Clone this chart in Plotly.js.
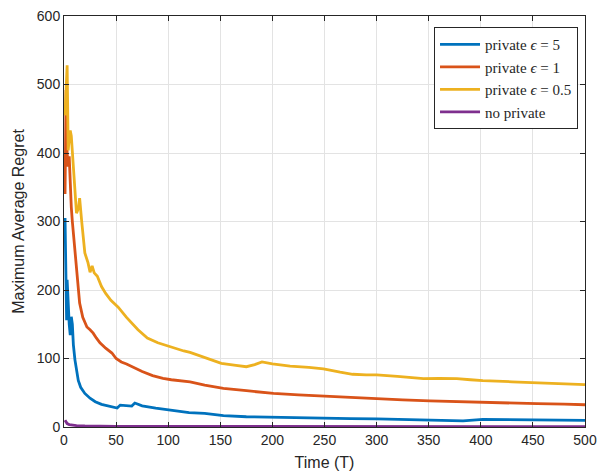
<!DOCTYPE html>
<html>
<head>
<meta charset="utf-8">
<script src="https://cdn.plot.ly/plotly-3.0.1.min.js"></script>
<style>html,body{margin:0;padding:0;background:#fff;}#chart{width:600px;height:476px;}</style>
</head>
<body>
<div id="chart"></div>
<script>
// Series: private eps = 5 (blue)
const tEps5 = [1,2,2.5,3,4,5,6,7,8,9,10.5,12,13.7,16,20,25,30,36,43,48,51,54,60,65,68,75,88,104,120,135,153,175,201,225,249,275,300,325,351,383,402,430,454,480,500];
const vEps5 = [305,200,156,215,170,150,134,161,150,120,98,80,68,58,49,42,37,33,30.6,29,27.7,32,31,30.6,35,31,27.7,24,21,20,16.5,15,14,13.2,12.6,12.2,12,11,10,9,11,10.8,10.5,10,9.7];
// Series: private eps = 1 (red)
const tEps1 = [1,2,3,4,5,6,7,8,10.5,13,15,18,22,25,28,31,34.5,40,46,50,55,60,65,70,75,85,95,103,115,121,135,153,175,201,225,249,275,300,325,351,375,402,430,454,480,500];
const vEps1 = [340,492,400,380,395,350,321,300,258,215,181,160,146,142,137,130,123,115,108,100,95,92,88,84,81,75,71,69,67,66,61,56.5,53,49,47,45,43,41,39.5,38,37,35.5,35,34,33.5,32.5];
// Series: private eps = 0.5 (yellow)
const tEps05 = [1,2,3,3.5,4,5,6,7,8,10,12,14,15,17,20,23,25,27,29,32,36,40,45,52,60,71,80,90,102,115,121,135,151,165,175,183,190,200,217,235,249,265,277,290,300,320,345,360,377,390,402,430,454,480,500];
const vEps05 = [455,500,528,470,404,420,433,425,400,350,312,320,334,300,254,240,226,235,225,220,205,195,185,175,160,142,130,123,117,111,109,101,93,90,88,91,95,92,89,87,85,80,77,76,76,74,70.5,71,70.5,69,67.6,66,64.7,64,62];
// Series: no private (purple)
const tNone = [1,2,3,5,8,12,20,30,50,100,200,300,400,500];
const vNone = [10,7,5,3.5,2.5,2,1.5,1.2,1,0.8,0.6,0.5,0.5,0.5];

const seriesNames = ['private <i>\u03f5</i> = 5','private <i>\u03f5</i> = 1','private <i>\u03f5</i> = 0.5','no private'];
const colors = ['#0072BD','#D95319','#EDB120','#7E2F8E'];
const xTicks = [0,50,100,150,200,250,300,350,400,450,500];
const yTicks = [0,100,200,300,400,500,600];

const xs = [tEps5,tEps1,tEps05,tNone];
const ys = [vEps5,vEps1,vEps05,vNone];
const traces = xs.map((x,i)=>({
  x:x, y:ys[i], type:'scatter', mode:'lines', name:seriesNames[i],
  line:{color:colors[i], width:2.8}
}));

const axisCommon = {
  showline:true, linecolor:'#262626', linewidth:1, mirror:'ticks',
  ticks:'inside', ticklen:5, tickcolor:'#262626',
  showgrid:true, gridcolor:'#e3e3e3', gridwidth:1, zeroline:false,
  tickfont:{family:'Liberation Sans, Arial, sans-serif', size:14, color:'#262626'}
};

const layout = {
  width:600, height:476,
  margin:{l:64, r:15, t:16, b:49},
  paper_bgcolor:'#fff', plot_bgcolor:'#fff',
  showlegend:true,
  legend:{x:0.9866, y:0.973, xanchor:'right', yanchor:'top',
    bgcolor:'#fff', bordercolor:'#262626', borderwidth:1,
    font:{family:'Liberation Serif, Times New Roman, serif', size:15, color:'#262626'},
    tracegroupgap:0, itemwidth:40},
  xaxis:Object.assign({}, axisCommon, {range:[0,500], tickvals:xTicks, ticktext:xTicks.map(String),
    title:{text:'Time (T)', standoff:10, font:{family:'Liberation Sans, Arial, sans-serif', size:16, color:'#262626'}}}),
  yaxis:Object.assign({}, axisCommon, {range:[0,600], tickvals:yTicks, ticktext:yTicks.map(String),
    title:{text:'Maximum Average Regret', standoff:8, font:{family:'Liberation Sans, Arial, sans-serif', size:16, color:'#262626'}}})
};

Plotly.newPlot('chart', traces, layout, {displayModeBar:false, staticPlot:true});
</script>
</body>
</html>
